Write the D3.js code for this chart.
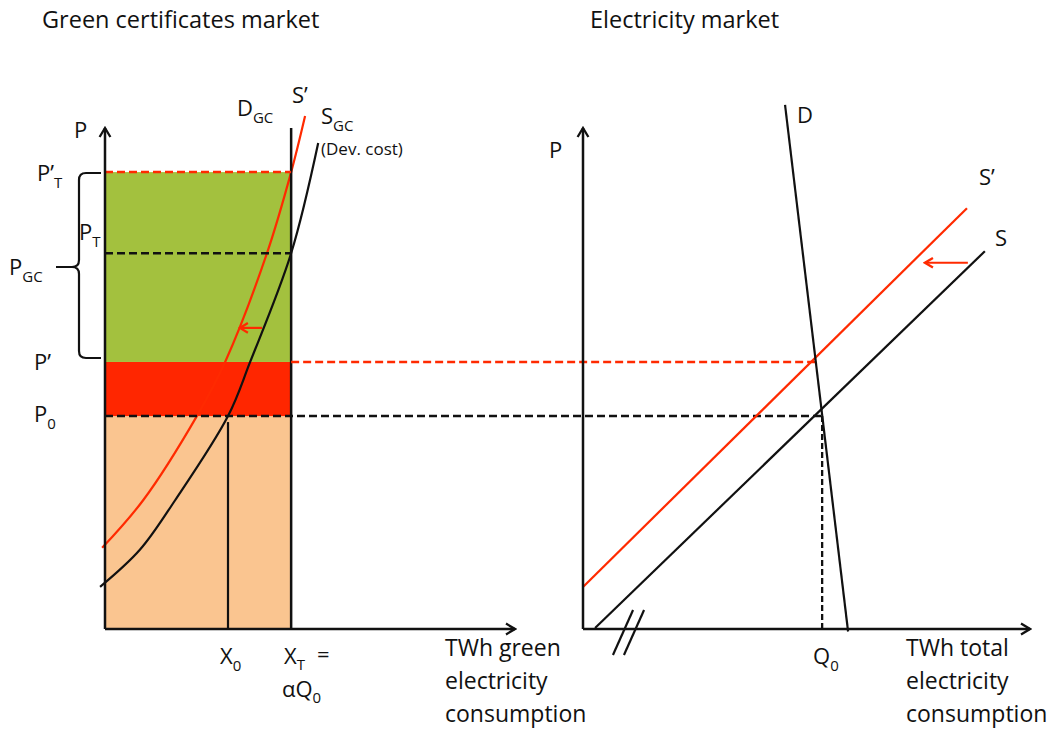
<!DOCTYPE html>
<html>
<head>
<meta charset="utf-8">
<script src="https://cdn.jsdelivr.net/npm/d3@7"></script>
<style>
  html, body { margin: 0; padding: 0; background: #fff; }
  svg { display: block; }
  text { font-family: "Open Sans", "DejaVu Sans", sans-serif; fill: #111; }
</style>
</head>
<body>
<svg id="chart" width="1053" height="729"></svg>
<script>
// ---------- DATA (abstract units: quantity 0–100, price 0–100) ----------
const panelTitles = ["Green certificates market", "Electricity market"];

// Green certificates market: price levels
const gcPriceNames  = ["P0", "P'", "PT", "P'T"];
const gcPriceValues = [42.5, 53.3, 75.0, 91.2];
// Quantities
const gcQtyNames  = ["X0", "XT"];
const gcQtyValues = [30.0, 45.4];

// Supply curve S_GC (development cost), black
const sgcX = [-1.2, 8.5, 17.1, 30.0, 35.4, 45.4, 52.0];
const sgcY = [8.4, 15.8, 25.7, 42.5, 53.3, 75.0, 97.0];
// Shifted supply S', red
const sgcShiftX = [-0.7, 9.3, 22.4, 29.3, 39.5, 45.4, 48.8];
const sgcShiftY = [16.2, 25.7, 42.5, 53.3, 75.0, 91.2, 102.4];
// Demand D_GC (vertical at XT)
const dgcX = [45.4, 45.4];
const dgcY = [0, 100];
// Shift arrow (from, to)
const gcArrowX = [38.3, 32.9];
const gcArrowY = [60.1, 60.1];

// Electricity market
const elD_X  = [45.2, 59.3];
const elD_Y  = [104.6, -0.5];
const elS_X  = [2.7, 89.9];
const elS_Y  = [0.2, 75.4];
const elS2_X = [0.0, 85.9];
const elS2_Y = [8.4, 84.0];
const elQ0   = 53.5;
const elPprimeQ = 51.9;   // where S' meets D
const elArrowX = [86.1, 76.5];
const elArrowY = [73.1, 73.1];

// Axis titles
const gcAxisTitle = ["TWh green", "electricity", "consumption"];
const elAxisTitle = ["TWh total", "electricity", "consumption"];

// ---------- SCALES ----------
const y  = d3.scaleLinear().domain([0, 100]).range([629, 128]);
const xL = d3.scaleLinear().domain([0, 100]).range([105, 515]);
const xR = d3.scaleLinear().domain([0, 100]).range([583, 1030]);

const svg = d3.select("#chart");
const defs = svg.append("defs");
function arrowMarker(id, color, size) {
  defs.append("marker")
    .attr("id", id).attr("viewBox", "-12 -7 14 14")
    .attr("refX", 0).attr("refY", 0)
    .attr("markerWidth", 14).attr("markerHeight", 14)
    .attr("markerUnits", "userSpaceOnUse")
    .attr("orient", "auto")
    .append("path").attr("d", `M-${size},-${size * 0.6} L0,0 L-${size},${size * 0.6}`)
    .attr("fill", "none").attr("stroke", color).attr("stroke-width", 2.3);
}
arrowMarker("axArrow", "#111", 9);
arrowMarker("redArrow", "#ff2a00", 8);

const GREEN = "#a3c13e", RED = "#ff2600", PEACH = "#fac590";
const P = i => gcPriceValues[gcPriceNames.indexOf(i)];

// ---------- LEFT PANEL: filled areas ----------
const XT = gcQtyValues[1], X0 = gcQtyValues[0];
svg.append("rect").attr("x", xL(0)).attr("width", xL(XT) - xL(0))
  .attr("y", y(P("P0"))).attr("height", y(0) - y(P("P0"))).attr("fill", PEACH);
svg.append("rect").attr("x", xL(0)).attr("width", xL(XT) - xL(0))
  .attr("y", y(P("P'"))).attr("height", y(P("P0")) - y(P("P'"))).attr("fill", RED);
svg.append("rect").attr("x", xL(0)).attr("width", xL(XT) - xL(0))
  .attr("y", y(P("P'T"))).attr("height", y(P("P'")) - y(P("P'T"))).attr("fill", GREEN);

const curve = d3.line().curve(d3.curveCatmullRom.alpha(0.5));

// Curves
svg.append("path")
  .attr("d", curve(sgcX.map((v, i) => [xL(v), y(sgcY[i])])))
  .attr("fill", "none").attr("stroke", "#111").attr("stroke-width", 2.2);
svg.append("path")
  .attr("d", curve(sgcShiftX.map((v, i) => [xL(v), y(sgcShiftY[i])])))
  .attr("fill", "none").attr("stroke", "#ff2a00").attr("stroke-width", 2.2);

// D_GC vertical
svg.append("line").attr("x1", xL(dgcX[0])).attr("x2", xL(dgcX[1]))
  .attr("y1", y(dgcY[0])).attr("y2", y(dgcY[1]))
  .attr("stroke", "#111").attr("stroke-width", 2.5);

// X0 vertical
svg.append("line").attr("x1", xL(X0)).attr("x2", xL(X0))
  .attr("y1", y(0)).attr("y2", y(P("P0")) + 6)
  .attr("stroke", "#111").attr("stroke-width", 2.2);

// Dashed lines
function dash(x1, y1, x2, y2, color, da, w) {
  svg.append("line").attr("x1", x1).attr("y1", y1).attr("x2", x2).attr("y2", y2)
    .attr("stroke", color).attr("stroke-width", w || 2.5)
    .attr("stroke-dasharray", da || "8,4");
}
dash(xL(0), y(P("P'T")), xL(XT), y(P("P'T")), "#ff2a00");
dash(xL(0), y(P("PT")), xL(XT), y(P("PT")), "#111");
dash(xL(XT), y(P("P'")), xR(elPprimeQ), y(P("P'")), "#ff2a00");
dash(xL(0), y(P("P0")), xR(elQ0), y(P("P0")), "#111");
dash(xR(elQ0), y(P("P0")), xR(elQ0), y(0), "#111", "6,3", 2.3);

// Left shift arrow
svg.append("line").attr("x1", xL(gcArrowX[0])).attr("x2", xL(gcArrowX[1]))
  .attr("y1", y(gcArrowY[0])).attr("y2", y(gcArrowY[1]))
  .attr("stroke", "#ff2a00").attr("stroke-width", 2.2)
  .attr("marker-end", "url(#redArrow)");

// Axes (left)
const axL = svg.append("g").attr("transform", `translate(0,${y(0)})`)
  .call(d3.axisBottom(xL).tickValues([]).tickSizeOuter(0));
const ayL = svg.append("g").attr("transform", `translate(${xL(0)},0)`)
  .call(d3.axisLeft(y).tickValues([]).tickSizeOuter(0));
[axL, ayL].forEach(g => g.select(".domain").attr("stroke", "#111").attr("stroke-width", 2.5));
axL.select(".domain").attr("d", `M${xL(0)},0H${xL(100)}`).attr("marker-end", "url(#axArrow)");
ayL.select(".domain").attr("d", `M0,${y(0)}V${y(100)}`).attr("marker-end", "url(#axArrow)");

// ---------- RIGHT PANEL ----------
svg.append("line").attr("x1", xR(elS2_X[0])).attr("y1", y(elS2_Y[0]))
  .attr("x2", xR(elS2_X[1])).attr("y2", y(elS2_Y[1]))
  .attr("stroke", "#ff2a00").attr("stroke-width", 2.2);
svg.append("line").attr("x1", xR(elS_X[0])).attr("y1", y(elS_Y[0]))
  .attr("x2", xR(elS_X[1])).attr("y2", y(elS_Y[1]))
  .attr("stroke", "#111").attr("stroke-width", 2.2);
svg.append("line").attr("x1", xR(elD_X[0])).attr("y1", y(elD_Y[0]))
  .attr("x2", xR(elD_X[1])).attr("y2", y(elD_Y[1]))
  .attr("stroke", "#111").attr("stroke-width", 2.2);
svg.append("line").attr("x1", xR(elArrowX[0])).attr("x2", xR(elArrowX[1]))
  .attr("y1", y(elArrowY[0])).attr("y2", y(elArrowY[1]))
  .attr("stroke", "#ff2a00").attr("stroke-width", 2.2)
  .attr("marker-end", "url(#redArrow)");

const axR = svg.append("g").attr("transform", `translate(0,${y(0)})`)
  .call(d3.axisBottom(xR).tickValues([]).tickSizeOuter(0));
const ayR = svg.append("g").attr("transform", `translate(${xR(0)},0)`)
  .call(d3.axisLeft(y).tickValues([]).tickSizeOuter(0));
[axR, ayR].forEach(g => g.select(".domain").attr("stroke", "#111").attr("stroke-width", 2.5));
axR.select(".domain").attr("d", `M${xR(0)},0H${xR(100)}`).attr("marker-end", "url(#axArrow)");
ayR.select(".domain").attr("d", `M0,${y(0)}V${y(100)}`).attr("marker-end", "url(#axArrow)");

// axis break marks
[0, 11].forEach(off => {
  svg.append("line")
    .attr("x1", xR(6.7) + off).attr("y1", y(0) + 26)
    .attr("x2", xR(11.2) + off).attr("y2", y(0) - 19)
    .attr("stroke", "#111").attr("stroke-width", 2.2);
});

// ---------- BRACE ----------
svg.append("path")
  .attr("d", "M101,173 L86,173 Q79,173 79,180 L79,260 Q79,267 72,267 L56,267 M72,267 Q79,267 79,274 L79,351 Q79,358 86,358 L101,358")
  .attr("fill", "none").attr("stroke", "#111").attr("stroke-width", 2.2);

// ---------- TEXT ----------
function label(x, yy, main, sub, size, subSize, dy) {
  const t = svg.append("text").attr("x", x).attr("y", yy).style("font-size", (size || 22) + "px");
  t.append("tspan").text(main);
  if (sub) t.append("tspan").attr("dy", dy || 7).style("font-size", (subSize || 15) + "px").text(sub);
  return t;
}
svg.append("text").attr("x", 42).attr("y", 28).style("font-size", "23.5px").text(panelTitles[0]);
svg.append("text").attr("x", 590).attr("y", 28).style("font-size", "23.5px").text(panelTitles[1]);

label(74, 138, "P");
label(37, 181, "P\u2019", "T");
label(79, 240, "P", "T");
label(9, 275, "P", "GC");
label(34, 370, "P\u2019");
label(34, 422, "P", "0");

label(237, 116, "D", "GC");
label(292, 103, "S\u2019");
label(321, 124, "S", "GC");
svg.append("text").attr("x", 321).attr("y", 155).style("font-size", "17px").text("(Dev. cost)");

label(220, 664, "X", "0");
label(284, 664, "X", "T", 22, 15, 6);
svg.append("text").attr("x", 317).attr("y", 662).style("font-size", "22px").text("=");
label(282, 697, "\u03B1Q", "0", 22, 15, 6);

gcAxisTitle.forEach((s, i) =>
  svg.append("text").attr("x", 445).attr("y", 656 + i * 33).style("font-size", "23px").text(s));
elAxisTitle.forEach((s, i) =>
  svg.append("text").attr("x", 906).attr("y", 656 + i * 33).style("font-size", "23px").text(s));

label(549, 158, "P");
label(797, 123, "D");
label(979, 185, "S\u2019");
label(995, 246, "S");
label(813, 664, "Q", "0");
</script>
</body>
</html>
